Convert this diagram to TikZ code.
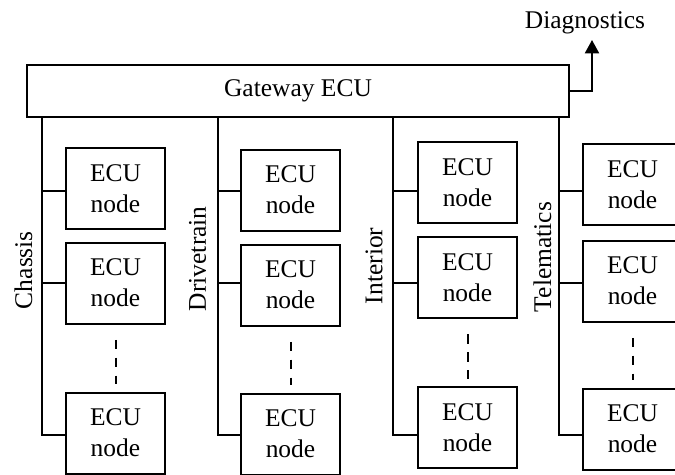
\documentclass[tikz,border=0pt]{standalone}
\usepackage{fontspec}
\setmainfont{Liberation Serif}
\usetikzlibrary{arrows.meta,calc}
\begin{document}
\begin{tikzpicture}[x=0.75pt,y=-0.75pt,line width=1.5pt,
  ecu/.style={draw,rectangle,minimum width=74.25pt,minimum height=60.75pt,inner sep=0pt,align=center,font=\fontsize{19.1}{23.3}\selectfont},
  lbl/.style={rotate=90,anchor=west,inner sep=0pt,font=\fontsize{19.1}{23.3}\selectfont},
  dots/.style={dash pattern=on 7.1pt off 6.3pt,shorten <=11.5pt,shorten >=5.5pt}]
\clip (0,0) rectangle (675,475);
% gateway
\node[draw,rectangle,minimum width=406.5pt,minimum height=39pt,inner sep=0pt,font=\fontsize{19.1}{23.3}\selectfont] (gw) at (298,91) {Gateway ECU};
\node[anchor=base,inner sep=0pt,font=\fontsize{19.1}{23.3}\selectfont] (diag) at (585,28) {Diagnostics};
\coordinate (dtip) at (592,40);
\draw[-{Triangle[width=10.5pt,length=10pt]}] (gw.east) -| (dtip);
% rows for branches
\coordinate (r1) at (0,191);
\coordinate (r2) at (0,283);
\coordinate (r3) at (0,434.5);
% bus tops
\coordinate (busA) at (42,117);
\coordinate (busB) at (218,117);
\coordinate (busC) at (393,117);
\coordinate (busD) at (559,117);
% boxes
\node[ecu] (A1) at (115.5,188.5) {ECU\\node};
\node[ecu] (A2) at (115.5,283) {ECU\\node};
\node[ecu] (A3) at (115.5,433) {ECU\\node};
\node[ecu] (B1) at (290.5,190) {ECU\\node};
\node[ecu] (B2) at (290.5,285) {ECU\\node};
\node[ecu] (B3) at (290.5,434) {ECU\\node};
\node[ecu] (C1) at (467.5,182.5) {ECU\\node};
\node[ecu] (C2) at (467.5,277.5) {ECU\\node};
\node[ecu] (C3) at (467.5,427.5) {ECU\\node};
\node[ecu] (D1) at (632.5,184.5) {ECU\\node};
\node[ecu] (D2) at (632.5,281) {ECU\\node};
\node[ecu] (D3) at (632.5,429) {ECU\\node};
% labels
\node[lbl] (lA) at (23.5,310) {Chassis};
\node[lbl] (lB) at (197.5,312) {Drivetrain};
\node[lbl] (lC) at (374,305) {Interior};
\node[lbl] (lD) at (542.5,313) {Telematics};
% buses and branches
\foreach \b/\c in {busA/A,busB/B,busC/C,busD/D}{
  \draw (\b) |- (\c3.west |- r3);
  \draw (\b |- r1) -- (\c1.west |- r1);
  \draw (\b |- r2) -- (\c2.west |- r2);
  \draw[dots] (\c2.south) -- (\c3.north);
}
\end{tikzpicture}
\end{document}
